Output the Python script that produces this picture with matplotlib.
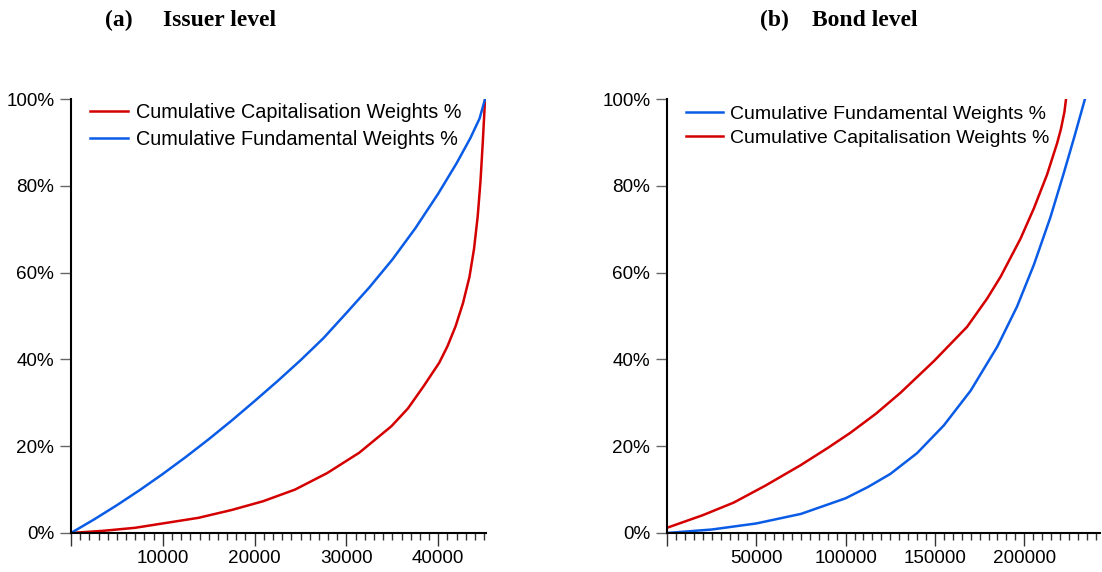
import numpy as np
import matplotlib
matplotlib.use("Agg")
import matplotlib.pyplot as plt
from matplotlib.ticker import MultipleLocator, FuncFormatter

# Panel (a): issuer level - number of issuers vs cumulative weight (%)
issuer_fund_n = [0, 2500, 5000, 7500, 10000, 12500, 15000, 17500, 20000, 22500, 25000, 27500,
                 30000, 32500, 35000, 37500, 40000, 42000, 43500, 44500, 45100]
issuer_fund = [0, 3.1, 6.4, 9.9, 13.6, 17.5, 21.6, 25.9, 30.4, 35.0, 39.8, 44.9,
               50.7, 56.6, 63.0, 70.2, 78.2, 85.2, 91.0, 95.5, 100]
issuer_cap_n = [0, 3500, 7000, 10000, 13900, 17500, 20900, 24400, 27900, 31400, 34900, 36700,
                38400, 40100, 41000, 41900, 42700, 43400, 43900, 44300, 44600, 44850, 45000, 45100]
issuer_cap = [0, 0.5, 1.2, 2.2, 3.5, 5.3, 7.3, 10.0, 13.8, 18.5, 24.6, 28.7,
              33.8, 39.2, 43.0, 47.7, 53.0, 59.0, 65.5, 73.0, 81.0, 90.0, 96.0, 100]

# Panel (b): bond level
bond_fund_n = [0, 25000, 50000, 75000, 100000, 112500, 125000, 140000, 155000, 170000, 185000, 196000,
               205400, 214700, 222200, 228000, 234000]
bond_fund = [0, 0.8, 2.2, 4.4, 8.0, 10.6, 13.6, 18.4, 24.8, 32.8, 43.0, 52.2,
             61.8, 72.8, 83.0, 91.2, 100]
bond_cap_n = [0, 20000, 37300, 55000, 74700, 90000, 102700, 117000, 130700, 149400, 168000,
              179200, 186700, 197900, 205400, 212800, 218400, 220500, 222500, 223400]
bond_cap = [1.2, 4.1, 7.0, 10.9, 15.6, 19.6, 23.1, 27.5, 32.3, 39.6, 47.5,
            54.0, 59.0, 67.8, 74.8, 82.6, 89.8, 93.0, 97.0, 100]

red = '#d40000'
blue = '#0a5ce6'

plt.rcParams['font.family'] = ['Liberation Sans', 'DejaVu Sans']

fig = plt.figure(figsize=(11.02, 5.72), dpi=100)
ax1 = fig.add_axes([0.0644, 0.0682, 0.3766, 0.7587])
ax2 = fig.add_axes([0.6053, 0.0682, 0.3930, 0.7587])


def style(ax, xmax, major, minor):
    for s in ['top', 'right']:
        ax.spines[s].set_visible(False)
    for s in ['left', 'bottom']:
        ax.spines[s].set_linewidth(1.5)
    ax.set_xlim(0, xmax)
    ax.set_ylim(0, 100)
    ax.xaxis.set_major_locator(MultipleLocator(major))
    ax.xaxis.set_minor_locator(MultipleLocator(minor))
    ax.yaxis.set_major_locator(MultipleLocator(20))
    ax.yaxis.set_major_formatter(FuncFormatter(lambda v, p: '%d%%' % v))
    ax.xaxis.set_major_formatter(FuncFormatter(lambda v, p: '' if v == 0 else '%d' % v))
    ax.tick_params(axis='both', which='major', direction='out', labelsize=13.6)
    ax.tick_params(axis='y', which='major', length=8, width=1, color='#666666', pad=4)
    ax.tick_params(axis='x', which='major', length=9, width=1, color='#333333', pad=3)
    ax.tick_params(axis='x', which='minor', direction='out', length=5, width=1, color='#333333')


ax1.plot(issuer_cap_n, issuer_cap, color=red, lw=1.8, label='Cumulative Capitalisation Weights %')
ax1.plot(issuer_fund_n, issuer_fund, color=blue, lw=1.8, label='Cumulative Fundamental Weights %')
style(ax1, 45200, 10000, 1000)
ax1.legend(loc='upper left', frameon=False, fontsize=14.3, handlelength=1.9, handletextpad=0.4,
           borderaxespad=0, borderpad=0, labelspacing=0.4, bbox_to_anchor=(0.046, 0.99))

ax2.plot(bond_fund_n, bond_fund, color=blue, lw=1.8, label='Cumulative Fundamental Weights %')
ax2.plot(bond_cap_n, bond_cap, color=red, lw=1.8, label='Cumulative Capitalisation Weights %')
style(ax2, 242500, 50000, 5000)
ax2.legend(loc='upper left', frameon=False, fontsize=14.0, handlelength=1.9, handletextpad=0.4,
           borderaxespad=0, borderpad=0, labelspacing=0.3, bbox_to_anchor=(0.043, 0.985))

title_font = dict(fontsize=17, fontweight='bold', family=['Liberation Serif', 'DejaVu Serif'])
fig.text(105 / 1102, 0.965, '(a)', va='center', ha='left', **title_font)
fig.text(163 / 1102, 0.965, 'Issuer level', va='center', ha='left', **title_font)
fig.text(760 / 1102, 0.965, '(b)', va='center', ha='left', **title_font)
fig.text(812 / 1102, 0.965, 'Bond level', va='center', ha='left', **title_font)

fig.savefig('out.png', dpi=100)
